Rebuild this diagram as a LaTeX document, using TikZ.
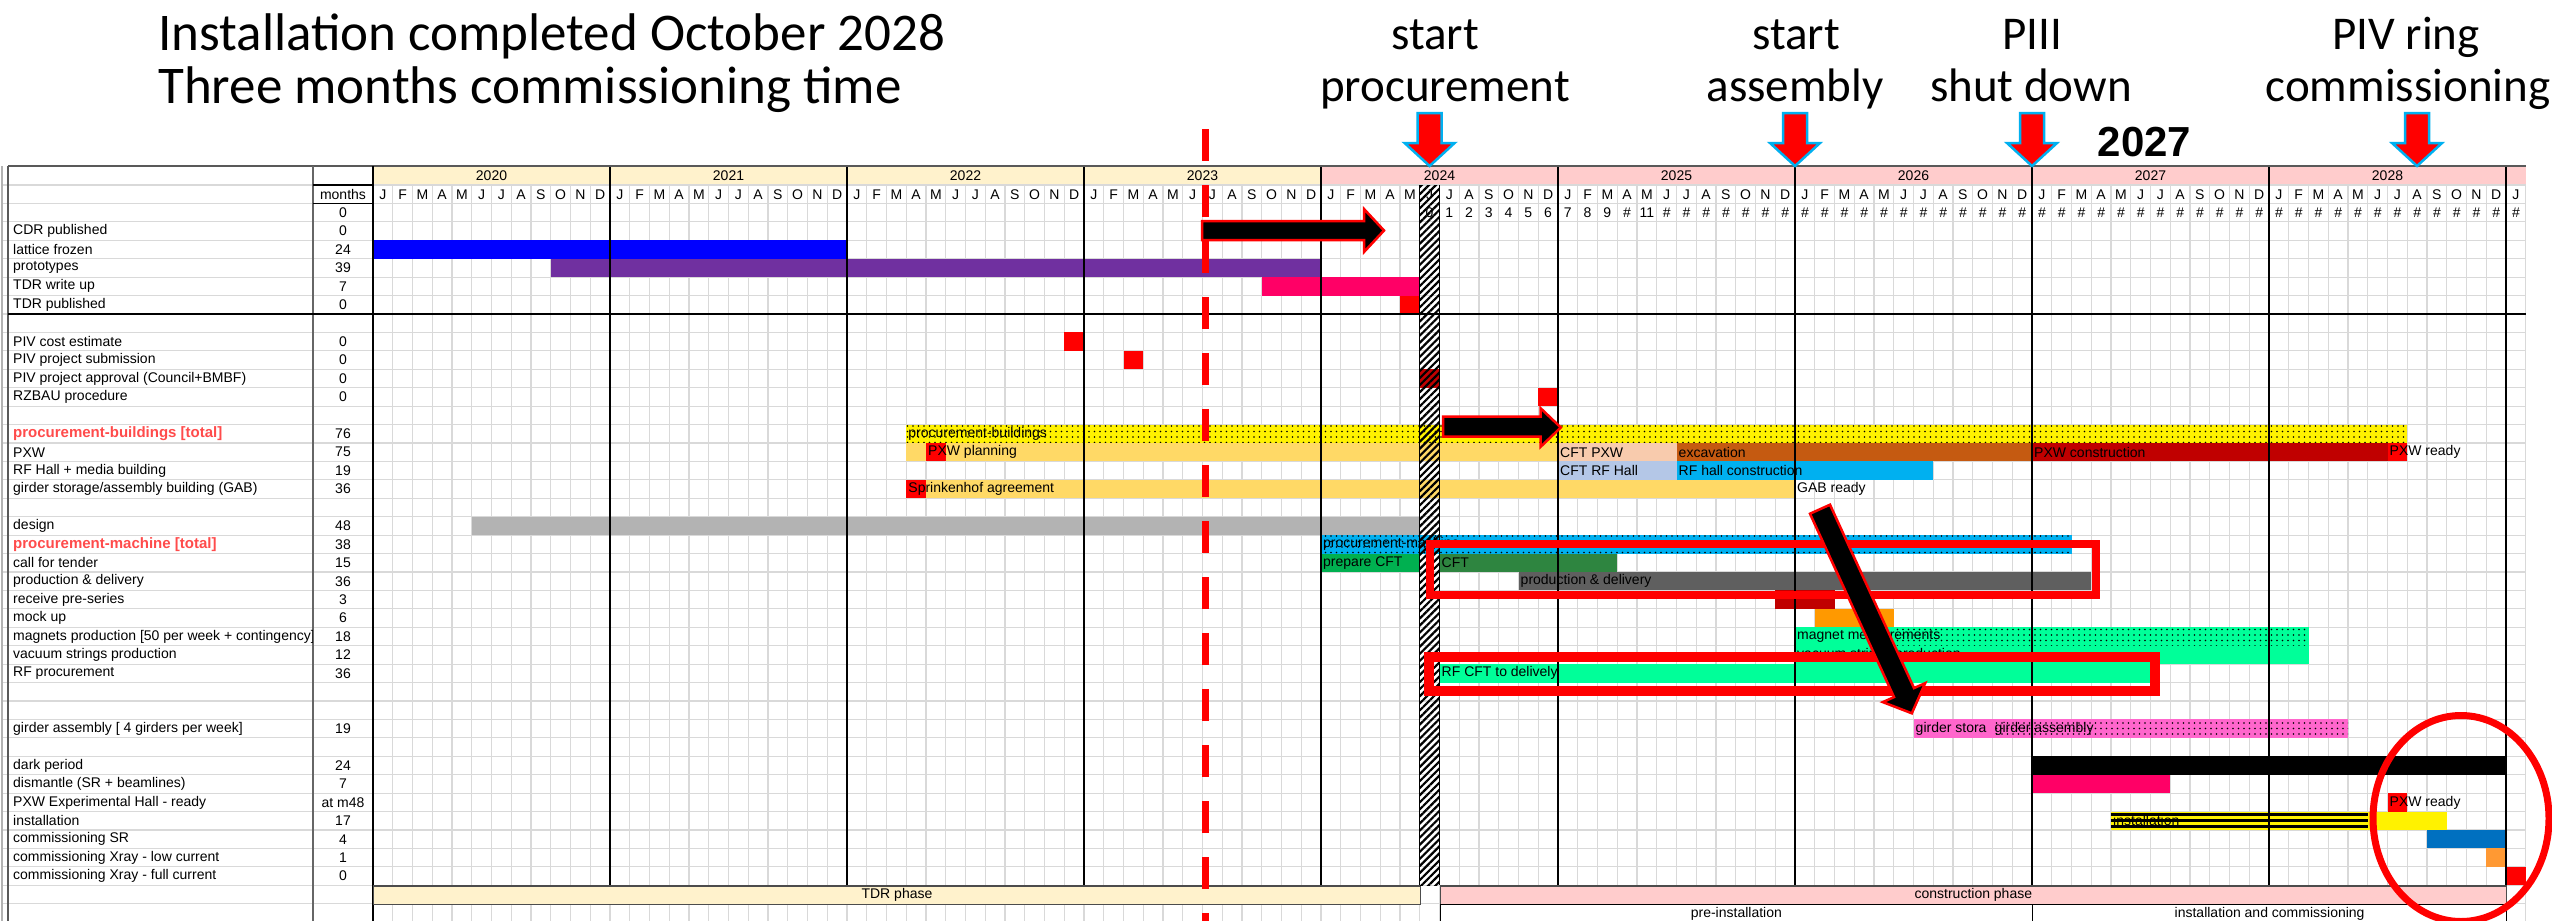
\documentclass[tikz,border=0pt]{standalone}
\usepackage{fontspec}
\setmainfont{Liberation Sans}
\newfontfamily\calfont{Carlito}
\usetikzlibrary{patterns.meta}
\definecolor{hdrY}{HTML}{FFF2CC}
\definecolor{hdrP}{HTML}{FFCCCC}
\definecolor{gridc}{HTML}{D9D9D9}
\definecolor{latblue}{HTML}{0000FF}
\definecolor{protopurple}{HTML}{7030A0}
\definecolor{tdrpink}{HTML}{FF0066}
\definecolor{darkred}{HTML}{C00000}
\definecolor{lorange}{HTML}{FFD966}
\definecolor{peach}{HTML}{F8CBAD}
\definecolor{excav}{HTML}{C55A11}
\definecolor{lblue}{HTML}{B4C7E7}
\definecolor{skyb}{HTML}{00B0F0}
\definecolor{designgray}{HTML}{B3B3B3}
\definecolor{cftgreen}{HTML}{00B050}
\definecolor{cftdark}{HTML}{2E8540}
\definecolor{proddgray}{HTML}{5F5F5F}
\definecolor{mockor}{HTML}{FF9900}
\definecolor{sgreen}{HTML}{00FF99}
\definecolor{girderpink}{HTML}{FF66CC}
\definecolor{commblue}{HTML}{0070C0}
\definecolor{lowor}{HTML}{FF9933}
\definecolor{redlbl}{HTML}{FF4B4B}
\definecolor{arrowcyan}{HTML}{00B0F0}
\newcommand{\MX}[1]{(373+19.75*(#1))}
\newcommand{\RY}[1]{(203.4+18.43*(#1))}
\newcommand{\gbar}[4]{\fill[#4] ({\MX{#2}},{\RY{#1}}) rectangle ({\MX{#3}},{\RY{#1+1}});}
\newcommand{\btxt}[4]{\node[tabtxt,anchor=west] (#1) at ({\MX{#3}+2},{\RY{#2+0.5}}) {#4};}
\newcommand{\dnarrow}[1]{\filldraw[fill=red, draw=arrowcyan, line width=2.5pt] ({#1-12},113) -- ({#1+12},113) -- ({#1+12},143) -- ({#1+25},143) -- (#1,166) -- ({#1-25},143) -- ({#1-12},143) -- cycle;}
\begin{document}
\begin{tikzpicture}[x=1pt,y=-1pt,
  tabtxt/.style={font=\fontsize{14}{16}\selectfont, inner sep=0pt},
  annot/.style={font=\calfont\fontsize{47}{56}\selectfont, inner sep=0pt, anchor=base},
  dotsfill/.style={pattern={Dots[radius=0.8pt,distance=5.5pt]}, pattern color=black},
  gridline/.style={draw=gridc, line width=1.2pt},
  yearline/.style={draw=black, line width=1.3pt},
  blackarrow/.style={fill=black, draw=red, line width=2.5pt, line join=miter}]
\useasboundingbox (0,0) rectangle (2552,921);
\fill[white] (0,0) rectangle (2552,921);

% ---------- header fills
\fill[hdrY] ({\MX{0}},166) rectangle ({\MX{48}},185);
\fill[hdrP] ({\MX{48}},166) rectangle ({\MX{109}},185);

% ---------- light grid
\foreach \i in {0,...,38} \draw[gridline] (2,{\RY{\i}}) -- ({\MX{109}},{\RY{\i}});
\draw[gridline] (2,185) -- ({\MX{109}},185);
\foreach \m in {0,...,109} \draw[gridline] ({\MX{\m}},185) -- ({\MX{\m}},921);
\draw[draw=gray!60, line width=1.5pt] (2,166) -- (2,921);

% ---------- bars
\gbar{2}{0}{24}{latblue}
\gbar{3}{9}{48}{protopurple}
\gbar{4}{45}{53}{tdrpink}
\gbar{5}{52}{53}{red}
\gbar{7}{35}{36}{red}
\gbar{8}{38}{39}{red}
\gbar{9}{53}{54}{darkred}
\gbar{10}{59}{60}{red}
\gbar{12}{27}{103}{yellow}
\gbar{12}{27}{103}{dotsfill}
\gbar{13}{27}{60}{lorange}
\gbar{13}{28}{29}{red}
\gbar{13}{60}{66}{peach}
\gbar{13}{66}{84}{excav}
\gbar{13}{84}{102}{darkred}
\gbar{13}{102}{103}{red}
\gbar{14}{60}{66}{lblue}
\gbar{14}{66}{79}{skyb}
\gbar{15}{27}{72}{lorange}
\gbar{15}{27}{28}{red}
\gbar{17}{5}{53}{designgray}
\gbar{18}{48}{86}{skyb}
\gbar{18}{48}{86}{dotsfill}
\gbar{19}{48}{53}{cftgreen}
\gbar{19}{54}{63}{cftdark}
\gbar{20}{58}{87}{proddgray}
\gbar{21}{71}{74}{darkred}
\gbar{22}{73}{77}{mockor}
\gbar{23}{72}{98}{sgreen}
\gbar{23}{77}{98}{dotsfill}
\gbar{24}{72}{98}{sgreen}
\gbar{25}{54}{90}{sgreen}
\gbar{28}{78}{100}{girderpink}
\gbar{28}{82}{100}{dotsfill}
\gbar{30}{84}{108}{black}
\gbar{31}{84}{91}{tdrpink}
\gbar{32}{102}{103}{red}
\gbar{33}{88}{101}{yellow}
\foreach \o in {1.5,7.5,13.5} \fill[black] ({\MX{88}},{\RY{33}+\o}) rectangle ({\MX{101}},{\RY{33}+\o+3.2});
\gbar{33}{101}{105}{yellow}
\gbar{34}{104}{108}{commblue}
\gbar{35}{107}{108}{lowor}
\gbar{36}{108}{109}{red}

% ---------- bar texts
\btxt{tpb}{12}{27}{procurement-buildings}
\btxt{tpxwp}{13}{28}{PXW planning}
\btxt{tcftpxw}{13}{60}{CFT PXW}
\btxt{texc}{13}{66}{excavation}
\btxt{tpxwc}{13}{84}{PXW construction}
\btxt{tpxwr}{13}{102}{PXW ready}
\btxt{tcftrf}{14}{60}{CFT RF Hall}
\btxt{trfhc}{14}{66}{RF hall construction}
\btxt{tspr}{15}{27}{Sprinkenhof agreement}
\btxt{tgab}{15}{72}{GAB ready}
\btxt{tpm}{18}{48}{procurement-machine}
\btxt{tprep}{19}{48}{prepare CFT}
\btxt{tcft}{19}{54}{CFT}
\btxt{tprod}{20}{58}{production \& delivery}
\btxt{tmagm}{23}{72}{magnet measurements}
\btxt{tvac}{24}{72}{vacuum strings production}
\btxt{trfcft}{25}{54}{RF CFT to delively}
\begin{scope}
\clip ({\MX{78}},{\RY{28}}) rectangle ({\MX{81.7}},{\RY{29}});
\btxt{tgst}{28}{78}{girder storage}
\end{scope}
\btxt{tgas}{28}{82}{girder assembly}
\btxt{tpxwr2}{32}{102}{PXW ready}
\btxt{tinst}{33}{88}{installation}

% ---------- year lines
\foreach \y in {0,...,9} \draw[yearline] ({\MX{12*\y}},166) -- ({\MX{12*\y}},{\RY{37}});
\draw[draw=gray!70!black, line width=1.3pt] (8,166) -- ({\MX{109}},166);
\draw[draw=gray!70!black, line width=1.3pt] (8,166) -- (8,921);
\draw[draw=gray!80!black, line width=1.3pt] (313,166) -- (313,921);
\draw[draw=black, line width=1.3pt] (373,166) -- (373,921);
\draw[draw=black, line width=1.2pt] (313,185) -- (373,185) (313,{\RY{0}}) -- (373,{\RY{0}});
\draw[draw=black, line width=2.5pt] (8,{\RY{6}}) -- ({\MX{109}},{\RY{6}});

% ---------- header texts
\foreach \y [count=\k from 0] in {2020,...,2028} \node[tabtxt] (yr\y) at ({\MX{12*\k+6}},175.5) {\y};
\foreach \y in {0,...,8} {
  \foreach \l [count=\k from 0] in {J,F,M,A,M,J,J,A,S,O,N,D}
    \node[tabtxt] (mo-\y-\k) at ({\MX{12*\y+\k+0.5}},194.5) {\l};
}
\node[tabtxt] (mo-9-0) at ({\MX{108.5}},194.5) {J};
\node[tabtxt] (monhdr) at (343,194.5) {months};
\foreach \m/\t in {53/0,54/1,55/2,56/3,57/4,58/5,59/6,60/7,61/8,62/9,63/\#,64/11}
  \node[tabtxt] (num\m) at ({\MX{\m+0.5}},{\RY{0.5}}) {\t};
\foreach \m in {65,...,108} \node[tabtxt] (num\m) at ({\MX{\m+0.5}},{\RY{0.5}}) {\#};

% ---------- labels
\begin{scope}
\clip (8,166) rectangle (312,921);
\foreach \r/\t in {1/CDR published, 2/lattice frozen, 3/prototypes, 4/TDR write up, 5/TDR published,
  7/PIV cost estimate, 8/PIV project submission, 9/PIV project approval (Council+BMBF), 10/RZBAU procedure,
  13/PXW, 14/RF Hall + media building, 17/design, 19/call for tender, 20/production \& delivery,
  21/receive pre-series, 22/mock up, 23/{magnets production [50 per week + contingency]},
  24/vacuum strings production, 25/RF procurement, 28/{girder assembly [ 4 girders per week]},
  30/dark period, 31/dismantle (SR  + beamlines), 32/PXW Experimental Hall - ready, 33/installation,
  34/commissioning SR, 35/commissioning Xray - low current, 36/commissioning Xray - full current}
  \node[tabtxt,anchor=west] (lab\r) at (13,{\RY{\r+0.5}}) {\t};
\node[tabtxt,anchor=west] (lab15) at (13,{\RY{15.5}}) {girder storage/assembly building (GAB)};
\node[tabtxt,anchor=west,font=\bfseries\fontsize{15}{16}\selectfont,text=redlbl] (lab12) at (13,{\RY{12.5}}) {procurement-buildings [total]};
\node[tabtxt,anchor=west,font=\bfseries\fontsize{15}{16}\selectfont,text=redlbl] (lab18) at (13,{\RY{18.5}}) {procurement-machine [total]};
\end{scope}
\foreach \r/\v in {0/0,1/0,2/24,3/39,4/7,5/0,7/0,8/0,9/0,10/0,12/76,13/75,14/19,15/36,17/48,18/38,19/15,20/36,21/3,22/6,23/18,24/12,25/36,28/19,30/24,31/7,32/at m48,33/17,34/4,35/1,36/0}
  \node[tabtxt] (val\r) at (343,{\RY{\r+0.5}}) {\v};

% ---------- phase rows
\node[tabtxt, draw=gray!60!black, fill=hdrY, line width=1.2pt, minimum width={\MX{53}-373}, minimum height=18.43, anchor=north west] (tdrph) at (373,{\RY{37}}) {TDR phase};
\node[tabtxt, draw=gray!60!black, fill=hdrP, line width=1.2pt, minimum width={19.75*54}, minimum height=18.43, anchor=north west] (conph) at ({\MX{54}},{\RY{37}}) {construction phase};
\node[tabtxt, draw=black, fill=white, line width=1.2pt, minimum width={19.75*30}, minimum height=18.43, anchor=north west] (preinst) at ({\MX{54}},{\RY{38}}) {pre-installation};
\node[tabtxt, draw=black, fill=white, line width=1.2pt, minimum width={19.75*24}, minimum height=18.43, anchor=north west] (instcom) at ({\MX{84}},{\RY{38}}) {installation and commissioning};

% ---------- hatched column
\fill[pattern={Lines[angle=45,distance=5pt,line width=2.2pt]}, pattern color=black] ({\MX{53}},185) rectangle ({\MX{54}},{\RY{37}});
\draw[black, line width=1pt] ({\MX{53}},185) -- ({\MX{53}},{\RY{37}}) ({\MX{54}},185) -- ({\MX{54}},{\RY{37}});

% ---------- red dashed line
\draw[red, line width=7pt, dash pattern=on 32pt off 24pt] (1205,129) -- (1205,921);

% ---------- black arrows
\filldraw[blackarrow] (1202,221) -- (1364,221) -- (1364,209) -- (1384,230.5) -- (1364,252) -- (1364,240) -- (1202,240) -- cycle;
\filldraw[blackarrow] (1443,416.7) -- (1540.7,416.7) -- (1540.7,408.3) -- (1560.8,427.5) -- (1540.7,446.7) -- (1540.7,436.7) -- (1443,436.7) -- cycle;

% ---------- red highlight boxes
\draw[red, line width=8.5pt] (1430,544) rectangle (2096,595);
\draw[red, line width=10pt] (1429,657) rectangle (2155,690.5);

% ---------- diagonal arrow
\filldraw[blackarrow] (1830.0,504.7) -- (1914.0,688.1) -- (1925.2,683.1) -- (1911.8,713.3) -- (1882.8,702.1) -- (1894.0,697.1) -- (1810.0,513.7) -- cycle;

% ---------- ellipse
\draw[red, line width=7pt] (2461,818.5) ellipse [x radius=88, y radius=103];

% ---------- top annotations
\node[anchor=base west, font=\calfont\fontsize{53}{60}\selectfont, inner sep=0pt] (title1) at (158,50) {Installation completed October 2028};
\node[anchor=base west, font=\calfont\fontsize{53}{60}\selectfont, inner sep=0pt] (title2) at (158,103) {Three months commissioning time};
\node[annot] (sp1) at (1435,49) {start};
\node[annot] (sp2) at (1445,101) {procurement};
\node[annot] (sa1) at (1796,49) {start};
\node[annot] (sa2) at (1795,101) {assembly};
\node[annot] (ps1) at (2032,49) {PIII};
\node[annot] (ps2) at (2031,101) {shut down};
\node[annot] (pv1) at (2406,49) {PIV ring};
\node[annot] (pv2) at (2408,101) {commissioning};
\node[font=\bfseries\fontsize{42}{48}\selectfont, inner sep=0pt] (big2027) at (2144.5,142.5) {2027};
\dnarrow{1429.6}
\dnarrow{1795}
\dnarrow{2032}
\dnarrow{2417}
\end{tikzpicture}
\end{document}
